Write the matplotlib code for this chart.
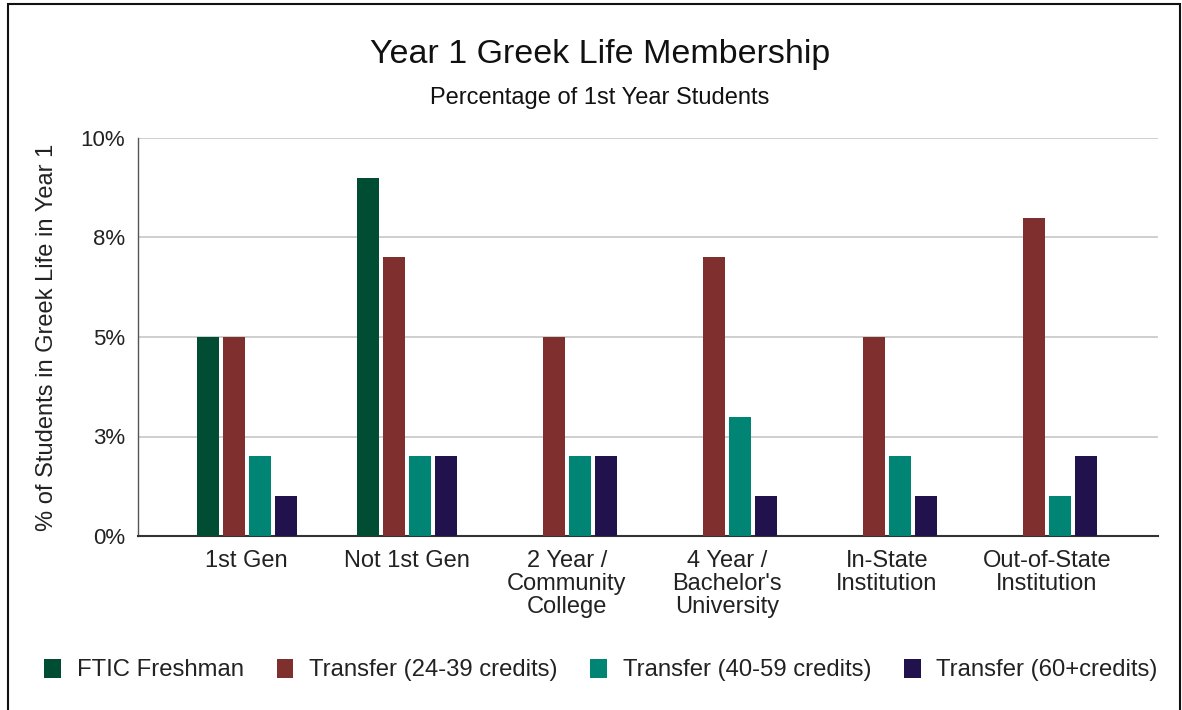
import matplotlib
matplotlib.use("Agg")
import matplotlib.pyplot as plt
import numpy as np
from matplotlib.patches import Patch, Rectangle

plt.rcParams['font.family'] = ['Liberation Sans', 'DejaVu Sans']

categories = ["1st Gen", "Not 1st Gen", "2 Year /\nCommunity\nCollege",
              "4 Year /\nBachelor's\nUniversity", "In-State\nInstitution",
              "Out-of-State\nInstitution"]
series_names = ["FTIC Freshman", "Transfer (24-39 credits)",
                "Transfer (40-59 credits)", "Transfer (60+credits)"]
ftic = [5, 9, 0, 0, 0, 0]
t24_39 = [5, 7, 5, 7, 5, 8]
t40_59 = [2, 2, 2, 3, 2, 1]
t60 = [1, 2, 2, 1, 1, 2]
yticks = [0, 2.5, 5, 7.5, 10]
ytick_labels = ["0%", "3%", "5%", "8%", "10%"]
colors = ["#004d33", "#7f2f2d", "#008575", "#21124d"]

series = [ftic, t24_39, t40_59, t60]

fig = plt.figure(figsize=(11.82, 7.10), dpi=100)
ax = fig.add_axes([138/1182, (710-536)/710, 1020/1182, 398/710])

x = np.arange(len(categories))
width = 0.1375
step = 0.1625
for i, (vals, c, name) in enumerate(zip(series, colors, series_names)):
    offs = (i - 1.5) * step
    ax.bar(x + offs, vals, width=width, color=c, label=name, zorder=3)

ax.set_xlim(-0.68, 5.695)
ax.set_ylim(0, 10)
ax.set_yticks(yticks)
ax.set_yticklabels(ytick_labels, fontsize=16, color="#222222")
ax.set_xticks(x)
ax.set_xticklabels(categories, fontsize=17, color="#222222", linespacing=1.05)
ax.tick_params(axis='y', length=0, pad=9.5)
ax.tick_params(axis='x', length=0, pad=10)
ax.grid(axis='y', color="#cccccc", linewidth=1.3, zorder=0)
for s in ['top', 'right']:
    ax.spines[s].set_visible(False)
ax.spines['left'].set_color("#555555")
ax.spines['left'].set_linewidth(1.0)
ax.spines['bottom'].set_color("#333333")
ax.spines['bottom'].set_linewidth(1.5)
ax.set_ylabel("% of Students in Greek Life in Year 1", fontsize=17,
              color="#222222", labelpad=16)

fig.text(600/1182, 1 - 55/710, "Year 1 Greek Life Membership", ha='center',
         va='center', fontsize=24.5, color="#111111")
fig.text(600/1182, 1 - 98/710, "Percentage of 1st Year Students", ha='center',
         va='center', fontsize=17, color="#111111")

handles = [Patch(facecolor=c, edgecolor='none') for c in colors]
fig.legend(handles, series_names, loc='center', bbox_to_anchor=(601/1182, 1 - 670/710),
           ncol=4, frameon=False, fontsize=17.2, handlelength=0.7, handleheight=0.85,
           columnspacing=1.38, handletextpad=0.65, labelcolor="#222222")

# figure border
fig.patches.append(Rectangle((8/1182, -0.01), (1180-8)/1182, 1 - 4/710 + 0.01,
                             transform=fig.transFigure, fill=False,
                             edgecolor="#111111", linewidth=1.5))

fig.savefig("out.png", dpi=100)
